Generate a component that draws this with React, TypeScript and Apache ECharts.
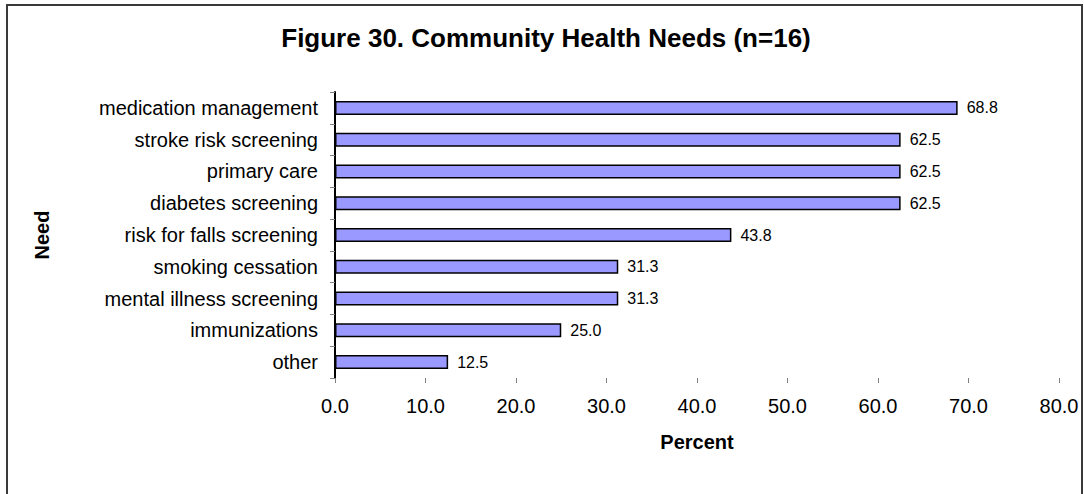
import React, { useEffect, useRef } from "react";
import * as echarts from "echarts";

const categories: string[] = [
  "medication management",
  "stroke risk screening",
  "primary care",
  "diabetes screening",
  "risk for falls screening",
  "smoking cessation",
  "mental illness screening",
  "immunizations",
  "other",
];
const percentValues: number[] = [68.8, 62.5, 62.5, 62.5, 43.8, 31.3, 31.3, 25.0, 12.5];
const xTickMin = 0;
const xTickMax = 80;
const xTickStep = 10;
const titleText = "Figure 30. Community Health Needs (n=16)";
const xAxisTitle = "Percent";
const yAxisTitle = "Need";

const FONT = "'Liberation Sans', Arial, Helvetica, sans-serif";

export default function App() {
  const ref = useRef<HTMLDivElement>(null);
  useEffect(() => {
    if (!ref.current) return;
    const chart = echarts.init(ref.current, undefined, { renderer: "svg" });
    chart.setOption({
      animation: false,
      backgroundColor: "#ffffff",
      textStyle: { fontFamily: FONT },
      grid: { left: 335, right: 25, top: 92, bottom: 116, containLabel: false },
      graphic: [
        {
          type: "rect",
          shape: { x: 7, y: 5, width: 1075, height: 520 },
          style: { fill: "none", stroke: "#3a3a3a", lineWidth: 2 },
          silent: true,
        },
        {
          type: "text",
          x: 546,
          y: 38,
          style: {
            text: titleText,
            fontFamily: FONT,
            fontSize: 26,
            fontWeight: "bold",
            fill: "#000",
            textAlign: "center",
            textVerticalAlign: "middle",
          },
        },
      ],
      xAxis: {
        type: "value",
        min: xTickMin,
        max: xTickMax,
        interval: xTickStep,
        name: xAxisTitle,
        nameLocation: "middle",
        nameGap: 54,
        nameTextStyle: { fontFamily: FONT, fontSize: 20, fontWeight: "bold", color: "#000" },
        axisLine: { show: false },
        axisTick: { show: true, length: 5, lineStyle: { color: "#808080", width: 1 } },
        axisLabel: {
          fontFamily: FONT,
          fontSize: 20,
          color: "#000",
          margin: 18,
          formatter: (v: number) => v.toFixed(1),
        },
        splitLine: { show: false },
      },
      yAxis: {
        type: "category",
        data: categories,
        inverse: true,
        name: yAxisTitle,
        nameLocation: "middle",
        nameRotate: 90,
        nameGap: 283,
        nameTextStyle: { fontFamily: FONT, fontSize: 20, fontWeight: "bold", color: "#000" },
        axisLine: { show: true, lineStyle: { color: "#000", width: 2 } },
        axisTick: { show: true, length: 5, lineStyle: { color: "#808080", width: 1 } },
        axisLabel: { fontFamily: FONT, fontSize: 20, color: "#000", margin: 17 },
      },
      series: [
        {
          type: "bar",
          data: percentValues,
          barWidth: 14,
          itemStyle: { color: "#9999FF", borderColor: "#000", borderWidth: 1.5 },
          label: {
            show: true,
            position: "right",
            distance: 9,
            fontFamily: FONT,
            fontSize: 16,
            color: "#000",
            formatter: (p: any) => Number(p.value).toFixed(1),
          },
        },
      ],
    });
    return () => chart.dispose();
  }, []);
  return (
    <div
      ref={ref}
      style={{ position: "absolute", left: 0, top: 0, width: 1084, height: 494 }}
    />
  );
}
